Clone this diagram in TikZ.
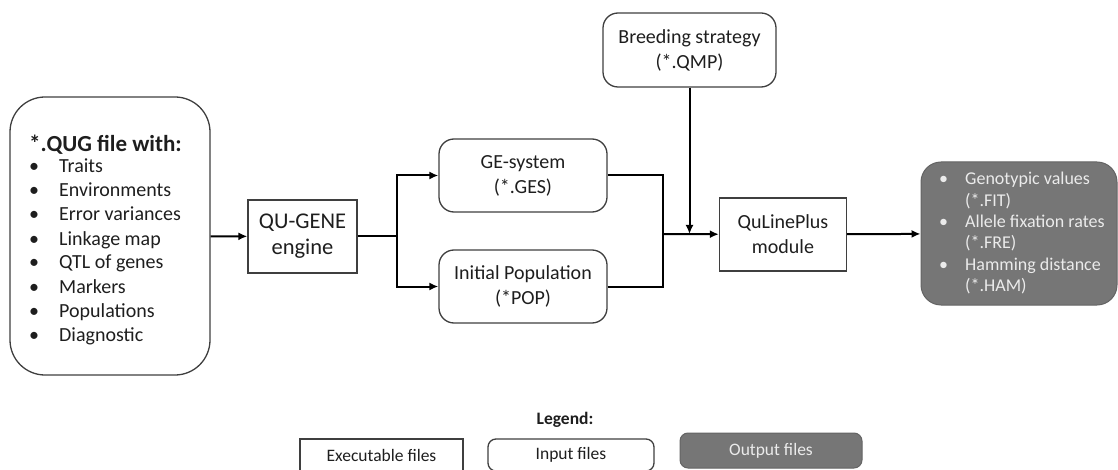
\documentclass[tikz,border=0pt]{standalone}
\usepackage{fontspec}
\setmainfont{Carlito}
\usetikzlibrary{arrows.meta}
\definecolor{outgray}{HTML}{767676}
\definecolor{boxline}{HTML}{3F3F3F}
\definecolor{txt}{HTML}{1E1E1E}

\begin{document}
\begin{tikzpicture}[x=1pt, y=-1pt,
  exebox/.style={draw=boxline, line width=1.3pt, align=center, text=txt,
    font=\fontsize{20}{25}\selectfont},
  inbox/.style={exebox, rounded corners=15pt},
  outbox/.style={fill=outgray, draw=outgray!85!black, line width=1pt,
    rounded corners=20pt, text=white!92!black},
  listtext/.style={text=txt, inner sep=0pt, font=\fontsize{20}{24}\selectfont},
  outtext/.style={text=white!92!black, inner sep=0pt, font=\fontsize{18}{21}\selectfont},
  conn/.style={line width=2pt, black},
  arr/.style={conn, -{Latex[length=9pt,width=8pt]}}]
\useasboundingbox (0,0) rectangle (1118,470);
\clip (0,0) rectangle (1118,470);

% Input file with the list
\node[inbox, rounded corners=35pt, minimum width=200, minimum height=278] (qug) at (110,236) {};
\node[anchor=base west, inner sep=0pt, text=txt, font=\fontsize{23}{27}\selectfont\bfseries]
  (qugtitle) at (29,152) {*.QUG file with:};
\foreach \trait [count=\i] in {Traits, Environments, Error variances, Linkage map,
    QTL of genes, Markers, Populations, Diagnostic}
  \node[listtext, anchor=base west] (item\i) at (29,{149+24*\i}) {\makebox[30pt][l]{\textbullet}\trait};

% Engine and its files
\node[exebox, minimum width=109, minimum height=73, font=\fontsize{22.5}{26}\selectfont]
  (engine) at (302.5,236.5) {QU-GENE\\engine};
\node[inbox, minimum width=168, minimum height=73] (ges) at (523,175.5) {GE-system\\(*.GES)};
\node[inbox, minimum width=168, minimum height=73] (pop) at (523,286.5) {Initial Population\\(*POP)};
\node[inbox, minimum width=173, minimum height=74] (qmp) at (689.5,50) {Breeding strategy\\(*.QMP)};
\node[exebox, minimum width=127, minimum height=73] (module) at (783,234.5) {QuLinePlus\\module};

% Output files
\node[outbox, minimum width=196, minimum height=143] (out) at (1019,233.5) {};
\foreach \res/\ext [count=\i] in {Genotypic values/FIT, Allele fixation rates/FRE, Hamming distance/HAM} {
  \node[outtext, anchor=base west] (res\i) at (939,{185+42.6*(\i-1)}) {\makebox[26pt][l]{\textbullet}\res};
  \node[outtext, anchor=base west] (ext\i) at (965,{206.3+42.6*(\i-1)}) {(*.\ext)};
}

% Connectors
\coordinate (split) at (397,236.5);
\coordinate (merge) at (663,234);
\draw[arr] (qug) -- (engine);
\draw[conn] (engine) -- (split);
\draw[arr] (split) |- (ges);
\draw[arr] (split) |- (pop);
\draw[conn] (ges) -| (merge);
\draw[conn] (pop) -| (merge);
\draw[arr] (qmp) -- (qmp |- merge);
\draw[arr] (merge) -- (module);
\draw[arr] (module) -- (out);

% Legend
\node[text=txt, font=\fontsize{17.5}{20}\selectfont\bfseries] (legend) at (565,420) {Legend:};
\node[exebox, minimum width=163, minimum height=32, font=\fontsize{17.5}{20}\selectfont]
  (legexe) at (381.5,455) {Executable files};
\node[inbox, rounded corners=8pt, minimum width=166, minimum height=32, font=\fontsize{17.5}{20}\selectfont]
  (legin) at (571,455) {Input files};
\node[outbox, rounded corners=8pt, minimum width=182, minimum height=35, font=\fontsize{17.5}{20}\selectfont]
  (legout) at (771,450.5) {Output files};
\end{tikzpicture}
\end{document}
